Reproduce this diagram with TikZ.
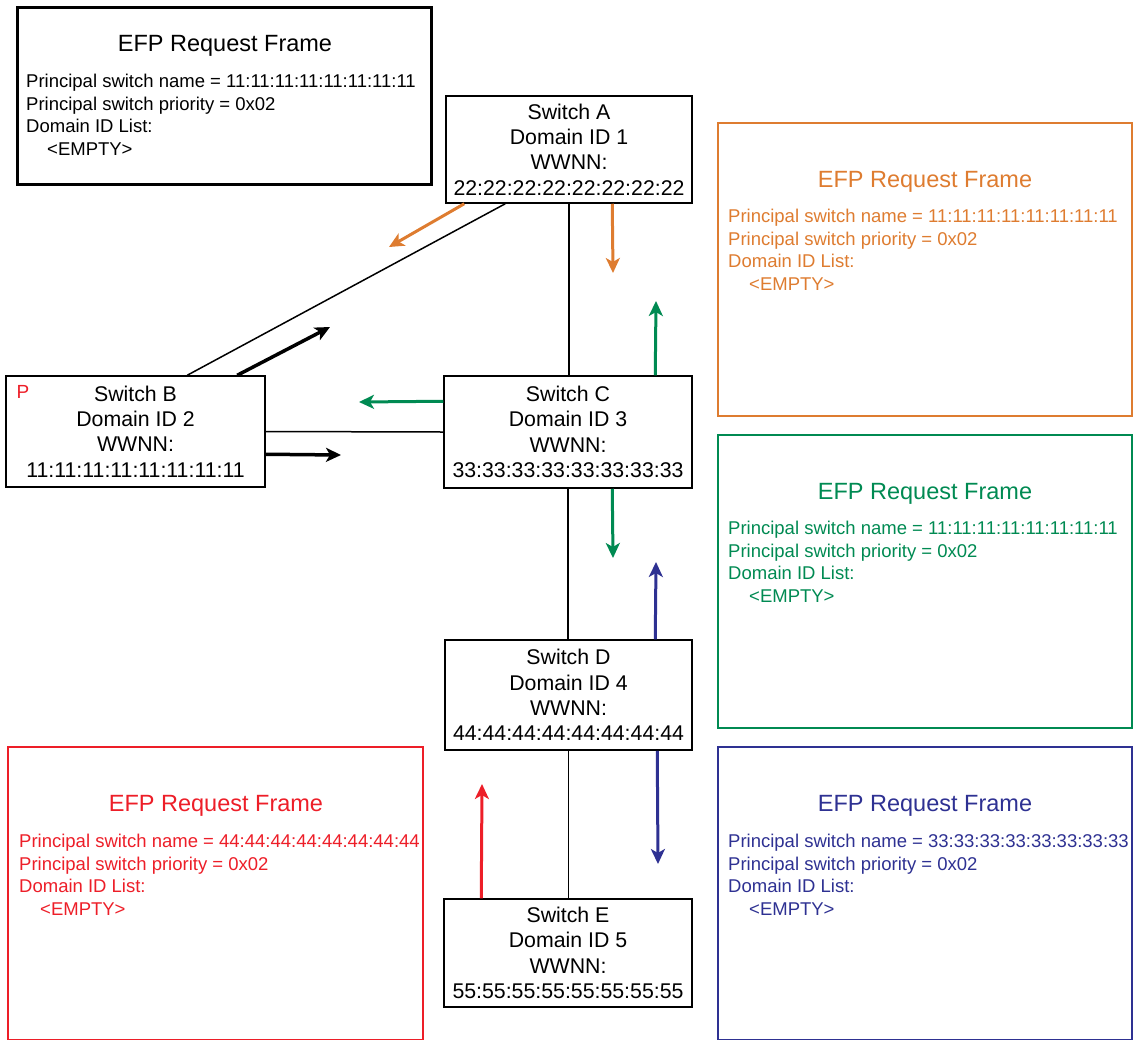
\documentclass[tikz,border=0pt]{standalone}
\usepackage{fontspec}
\setmainfont{Liberation Sans}
\usetikzlibrary{arrows.meta}
\definecolor{eorange}{RGB}{222,124,48}
\definecolor{egreen}{RGB}{0,138,82}
\definecolor{eblue}{RGB}{46,49,146}
\definecolor{ered}{RGB}{237,30,40}
\begin{document}
\begin{tikzpicture}[x=1pt,y=-1pt,
  swbox/.style={draw, line width=1.5pt, align=center, inner sep=0pt,
    font=\fontsize{21.3}{25.4}\selectfont,
    execute at begin node={\rule{0pt}{31pt}}},
  frame/.style={draw, line width=2.2pt, anchor=north west, inner sep=0pt},
  ftitle/.style={inner sep=0pt, font=\fontsize{23.5}{27}\selectfont},
  fbody/.style={anchor=north west, inner sep=0pt, align=left,
    font=\fontsize{18.5}{22.6}\selectfont},
  link/.style={line width=1.5pt},
  msg/.style={line width=3pt, -{Stealth[length=15pt,width=14pt,inset=4pt]}}]
\useasboundingbox (0,0) rectangle (1134,1039);

% frames
\node[frame, draw=black, line width=3pt, minimum width=414pt, minimum height=177pt] (f0) at (16,6) {};
\node[ftitle] (t0) at (225,46) {EFP Request Frame};
\node[fbody] (b0) at (26,74) {Principal switch name = 11:11:11:11:11:11:11:11\\Principal switch priority = 0x02\\Domain ID List:\\\hspace*{21pt}<EMPTY>};

\node[frame, draw=eorange, minimum width=414pt, minimum height=293pt] (f1) at (717,122) {};
\node[ftitle, text=eorange] (t1) at (925,182) {EFP Request Frame};
\node[fbody, text=eorange] (b1) at (728,209) {Principal switch name = 11:11:11:11:11:11:11:11\\Principal switch priority = 0x02\\Domain ID List:\\\hspace*{21pt}<EMPTY>};

\node[frame, draw=egreen, minimum width=414pt, minimum height=293pt] (f2) at (717,434) {};
\node[ftitle, text=egreen] (t2) at (925,494) {EFP Request Frame};
\node[fbody, text=egreen] (b2) at (728,521) {Principal switch name = 11:11:11:11:11:11:11:11\\Principal switch priority = 0x02\\Domain ID List:\\\hspace*{21pt}<EMPTY>};

\node[frame, draw=ered, minimum width=415pt, minimum height=293pt] (f3) at (7,746) {};
\node[ftitle, text=ered] (t3) at (216,806) {EFP Request Frame};
\node[fbody, text=ered] (b3) at (19,834) {Principal switch name = 44:44:44:44:44:44:44:44\\Principal switch priority = 0x02\\Domain ID List:\\\hspace*{21pt}<EMPTY>};

\node[frame, draw=eblue, minimum width=414pt, minimum height=293pt] (f4) at (717,746) {};
\node[ftitle, text=eblue] (t4) at (925,806) {EFP Request Frame};
\node[fbody, text=eblue] (b4) at (728,834) {Principal switch name = 33:33:33:33:33:33:33:33\\Principal switch priority = 0x02\\Domain ID List:\\\hspace*{21pt}<EMPTY>};

% switches
\node[swbox, minimum width=246pt, minimum height=107pt] (A) at (569,149.5) {Switch A\\Domain ID 1\\WWNN:\\22:22:22:22:22:22:22:22};
\node[swbox, minimum width=259pt, minimum height=111pt] (B) at (135.5,431.5) {Switch B\\Domain ID 2\\WWNN:\\11:11:11:11:11:11:11:11};
\node[swbox, minimum width=248pt, minimum height=112pt] (C) at (568,432) {Switch C\\Domain ID 3\\WWNN:\\33:33:33:33:33:33:33:33};
\node[swbox, minimum width=247pt, minimum height=110pt] (D) at (568.5,695) {Switch D\\Domain ID 4\\WWNN:\\44:44:44:44:44:44:44:44};
\node[swbox, minimum width=248pt, minimum height=108pt] (E) at (568,953) {Switch E\\Domain ID 5\\WWNN:\\55:55:55:55:55:55:55:55};
\node[text=ered, inner sep=0pt, font=\fontsize{19}{22}\selectfont] (P) at (23,392) {P};

% links
\draw[link] ([xshift=182pt]B.north west) -- ([xshift=60pt]A.south west);
\draw[link] (A.south) -- (A.south |- C.north);
\draw[link] (B.east) -- (C.west);
\draw[link] (C.south) -- (C.south |- D.north);
\draw[link] (D.south) -- (D.south |- E.north);

% message arrow ends
\coordinate (oa) at (389,247);
\coordinate (ob) at (613,273);
\coordinate (ga) at (656,301);
\coordinate (gb) at (359,402);
\coordinate (gc) at (613,558);
\coordinate (ka) at (330,327);
\coordinate (kb) at (341,455);
\coordinate (ua) at (656,562);
\coordinate (ub) at (658,864);
\coordinate (ra) at (482,784);

\draw[msg, eorange] ([xshift=19pt]A.south west) -- (oa);
\draw[msg, eorange] ([xshift=167pt]A.south west) -- (ob);
\draw[msg, egreen] ([xshift=212pt]C.north west) -- (ga);
\draw[msg, egreen] ([yshift=-26pt]C.north west) -- (gb);
\draw[msg, egreen] ([xshift=169pt]C.south west) -- (gc);
\draw[msg, black, line width=3.5pt] ([xshift=232pt]B.north west) -- (ka);
\draw[msg, black, line width=3.5pt] ([yshift=-79pt]B.north east) -- (kb);
\draw[msg, eblue] ([xshift=211pt]D.north west) -- (ua);
\draw[msg, eblue] ([xshift=213pt]D.south west) -- (ub);
\draw[msg, ered] ([xshift=38pt]E.north west) -- (ra);
\end{tikzpicture}
\end{document}
